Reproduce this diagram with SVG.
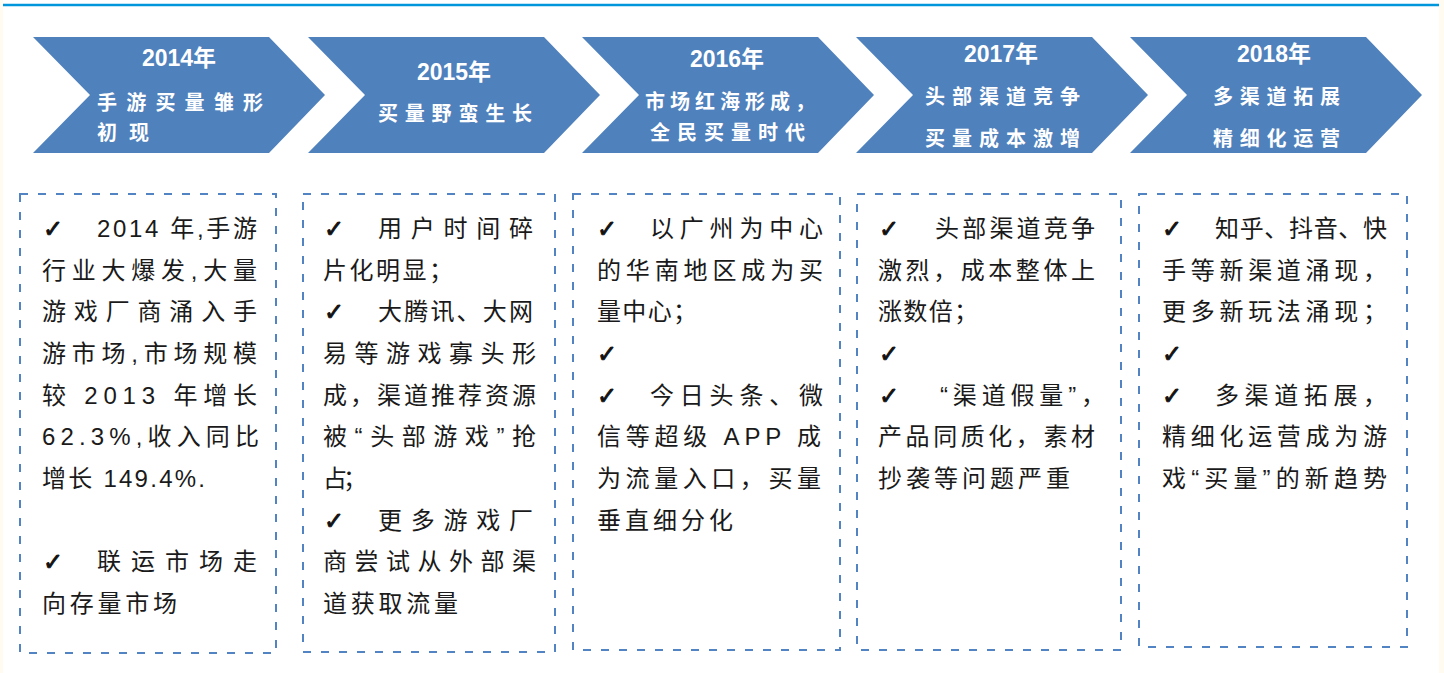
<svg xmlns="http://www.w3.org/2000/svg" width="1444" height="673" viewBox="0 0 1444 673">
<style>
.chev{fill:#4f81bd}
.box{fill:none;stroke:#5283c2;stroke-width:2;stroke-dasharray:8 10}
.yr{font-family:'Liberation Sans','Noto Sans CJK SC',sans-serif;font-weight:bold;font-size:23px;fill:#fff;text-anchor:middle}
.h{font-family:'Noto Sans CJK SC',sans-serif;font-weight:bold;font-size:20px;fill:#fff}
.t{font-family:'Liberation Sans','Noto Sans CJK SC',sans-serif;font-size:24px;fill:#1a1a1a}
.ck{font-family:'DejaVu Sans',sans-serif;font-size:24px;fill:#111;stroke:#111;stroke-width:0.9}
</style>
<rect x="0" y="0" width="1444" height="673" fill="#fffbf0"/>
<rect x="3" y="0" width="1436" height="673" fill="#ffffff"/>
<line x1="3" y1="5" x2="1439" y2="5" stroke="#0096db" stroke-width="2.5"/>

<g id="connectors"></g>

<g id="stage-2014">
<polygon class="chev" points="33,37 269,37 325,95 269,153 33,153 90,95"/>
<text class="yr" x="179" y="66">2014年</text>
<text class="h" x="97" y="110" textLength="166" lengthAdjust="spacing">手游买量雏形</text>
<text class="h" x="97" y="140" textLength="52" lengthAdjust="spacing">初现</text>
</g>
<g id="stage-2015">
<polygon class="chev" points="308,37 544,37 600,95 544,153 308,153 365,95"/>
<text class="yr" x="454" y="80">2015年</text>
<text class="h" x="378" y="121" textLength="154" lengthAdjust="spacing">买量野蛮生长</text>
</g>
<g id="stage-2016">
<polygon class="chev" points="582,37 818,37 874,95 818,153 582,153 639,95"/>
<text class="yr" x="727" y="67">2016年</text>
<text class="h" x="645" y="109" textLength="170" lengthAdjust="spacing">市场红海形成，</text>
<text class="h" x="650" y="140" textLength="155" lengthAdjust="spacing">全民买量时代</text>
</g>
<g id="stage-2017">
<polygon class="chev" points="856,37 1092,37 1148,95 1092,153 856,153 913,95"/>
<text class="yr" x="1001" y="62">2017年</text>
<text class="h" x="925" y="104" textLength="155" lengthAdjust="spacing">头部渠道竞争</text>
<text class="h" x="925" y="146" textLength="155" lengthAdjust="spacing">买量成本激增</text>
</g>
<g id="stage-2018">
<polygon class="chev" points="1130,37 1366,37 1422,95 1366,153 1130,153 1187,95"/>
<text class="yr" x="1274" y="62">2018年</text>
<text class="h" x="1213" y="104" textLength="127" lengthAdjust="spacing">多渠道拓展</text>
<text class="h" x="1213" y="146" textLength="127" lengthAdjust="spacing">精细化运营</text>
</g>

<g id="box-2014">
<rect class="box" x="20" y="194" width="256" height="459"/>
<text class="ck" x="43" y="237">✓</text>
<text class="t" x="97" y="237" textLength="160" lengthAdjust="spacing">2014 年,手游</text>
<text class="t" x="42" y="279" textLength="215" lengthAdjust="spacing">行业大爆发,大量</text>
<text class="t" x="42" y="320" textLength="215" lengthAdjust="spacing">游戏厂商涌入手</text>
<text class="t" x="42" y="362" textLength="215" lengthAdjust="spacing">游市场,市场规模</text>
<text class="t" x="42" y="404" textLength="215" lengthAdjust="spacing">较 2013 年增长</text>
<text class="t" x="42" y="445" textLength="217" lengthAdjust="spacing">62.3%,收入同比</text>
<text class="t" x="42" y="487" textLength="163" lengthAdjust="spacing">增长 149.4%.</text>
<text class="ck" x="43" y="570">✓</text>
<text class="t" x="97" y="570" textLength="160" lengthAdjust="spacing">联运市场走</text>
<text class="t" x="42" y="612" textLength="135" lengthAdjust="spacing">向存量市场</text>
</g>

<g id="box-2015">
<rect class="box" x="303" y="194" width="252" height="458"/>
<text class="ck" x="324" y="237">✓</text>
<text class="t" x="378" y="237" textLength="155" lengthAdjust="spacing">用户时间碎</text>
<text class="t" x="323" y="279" textLength="130" lengthAdjust="spacing">片化明显；</text>
<text class="ck" x="324" y="320">✓</text>
<text class="t" x="378" y="320" textLength="155" lengthAdjust="spacing">大腾讯、大网</text>
<text class="t" x="323" y="362" textLength="213" lengthAdjust="spacing">易等游戏寡头形</text>
<text class="t" x="323" y="404" textLength="213" lengthAdjust="spacing">成，渠道推荐资源</text>
<text class="t" x="323" y="445" textLength="213" lengthAdjust="spacing">被“头部游戏”抢</text>
<text class="t" x="323" y="487" textLength="44" lengthAdjust="spacing">占；</text>
<text class="ck" x="324" y="529">✓</text>
<text class="t" x="378" y="529" textLength="155" lengthAdjust="spacing">更多游戏厂</text>
<text class="t" x="323" y="570" textLength="213" lengthAdjust="spacing">商尝试从外部渠</text>
<text class="t" x="323" y="612" textLength="135" lengthAdjust="spacing">道获取流量</text>
</g>

<g id="box-2016">
<rect class="box" x="573" y="194" width="267" height="456"/>
<text class="ck" x="597" y="237">✓</text>
<text class="t" x="650" y="237" textLength="173" lengthAdjust="spacing">以广州为中心</text>
<text class="t" x="597" y="279" textLength="226" lengthAdjust="spacing">的华南地区成为买</text>
<text class="t" x="597" y="320" textLength="100" lengthAdjust="spacing">量中心；</text>
<text class="ck" x="597" y="362">✓</text>
<text class="ck" x="597" y="404">✓</text>
<text class="t" x="650" y="404" textLength="173" lengthAdjust="spacing">今日头条、微</text>
<text class="t" x="597" y="445" textLength="224" lengthAdjust="spacing">信等超级 APP 成</text>
<text class="t" x="597" y="487" textLength="224" lengthAdjust="spacing">为流量入口，买量</text>
<text class="t" x="597" y="529" textLength="136" lengthAdjust="spacing">垂直细分化</text>
</g>

<g id="box-2017">
<rect class="box" x="857" y="194" width="264" height="456"/>
<text class="ck" x="879" y="237">✓</text>
<text class="t" x="935" y="237" textLength="160" lengthAdjust="spacing">头部渠道竞争</text>
<text class="t" x="878" y="279" textLength="217" lengthAdjust="spacing">激烈，成本整体上</text>
<text class="t" x="878" y="320" textLength="100" lengthAdjust="spacing">涨数倍；</text>
<text class="ck" x="879" y="362">✓</text>
<text class="ck" x="879" y="404">✓</text>
<text class="t" x="940" y="404" textLength="165" lengthAdjust="spacing">“渠道假量”，</text>
<text class="t" x="878" y="445" textLength="217" lengthAdjust="spacing">产品同质化，素材</text>
<text class="t" x="878" y="487" textLength="192" lengthAdjust="spacing">抄袭等问题严重</text>
</g>

<g id="box-2018">
<rect class="box" x="1139" y="194" width="268" height="453"/>
<text class="ck" x="1162" y="237">✓</text>
<text class="t" x="1215" y="237" textLength="172" lengthAdjust="spacing">知乎、抖音、快</text>
<text class="t" x="1162" y="279" textLength="225" lengthAdjust="spacing">手等新渠道涌现，</text>
<text class="t" x="1162" y="320" textLength="225" lengthAdjust="spacing">更多新玩法涌现；</text>
<text class="ck" x="1162" y="362">✓</text>
<text class="ck" x="1162" y="404">✓</text>
<text class="t" x="1215" y="404" textLength="172" lengthAdjust="spacing">多渠道拓展，</text>
<text class="t" x="1162" y="445" textLength="225" lengthAdjust="spacing">精细化运营成为游</text>
<text class="t" x="1162" y="487" textLength="225" lengthAdjust="spacing">戏“买量”的新趋势</text>
</g>
</svg>
